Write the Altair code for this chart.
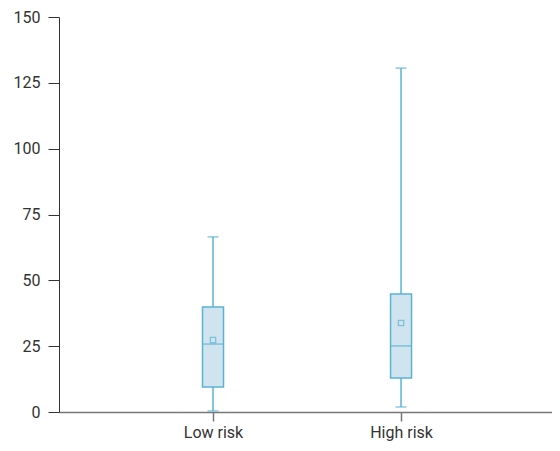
import altair as alt
import pandas as pd

groups = ["Low risk", "High risk"]
whisker_low = [0.4, 1.9]
q1 = [9.5, 12.9]
median = [25.8, 25.1]
q3 = [39.9, 44.8]
whisker_high = [66.5, 130.6]
mean = [27.3, 33.8]

df = pd.DataFrame({
    "group": groups, "lo": whisker_low, "q1": q1, "med": median,
    "q3": q3, "hi": whisker_high, "mean": mean,
})

stroke = "#5ab3d3"
fill = "#d0e4ef"
font = "Roboto"

xenc = alt.X("group:N", sort=groups, title=None,
             scale=alt.Scale(type="point", padding=0.811, align=0.505),
             axis=alt.Axis(labelAngle=0, labelFontSize=16, labelFont=font,
                           labelColor="#333333", domainColor="#777777",
                           tickColor="#777777", tickSize=9, labelPadding=3,
                           domainWidth=1.5, tickWidth=1.5))
yscale = alt.Scale(domain=[0, 150], nice=False)
yaxis = alt.Axis(values=[0, 25, 50, 75, 100, 125, 150], labelFontSize=16,
                 labelFont=font, labelColor="#333333", domainColor="#333333",
                 tickColor="#333333", tickSize=11, labelPadding=8, grid=False,
                 title=None)

base = alt.Chart(df).encode(x=xenc)

whisk = base.mark_rule(color=stroke, strokeWidth=1.5).encode(
    y=alt.Y("lo:Q", scale=yscale, axis=yaxis), y2="hi:Q")
box = base.mark_bar(size=21, fill=fill, stroke=stroke, strokeWidth=1.5).encode(
    y=alt.Y("q1:Q", scale=yscale), y2="q3:Q")
med = base.mark_tick(size=21, thickness=1.5, color=stroke).encode(
    y=alt.Y("med:Q", scale=yscale))
caplo = base.mark_tick(size=11, thickness=1.5, color=stroke).encode(
    y=alt.Y("lo:Q", scale=yscale))
caphi = base.mark_tick(size=11, thickness=1.5, color=stroke).encode(
    y=alt.Y("hi:Q", scale=yscale))
mn = base.mark_point(shape="square", size=28, filled=False, color=stroke,
                     strokeWidth=1.3).encode(y=alt.Y("mean:Q", scale=yscale))

chart = alt.layer(whisk, box, med, caplo, caphi, mn).properties(
    width=493, height=395,
    autosize=alt.AutoSizeParams(type="none"),
    padding={"left": 51, "top": 9, "right": 0, "bottom": 31},
).configure_view(stroke=None)

chart.save("out.html", embed_options={"renderer": "svg", "actions": False})
